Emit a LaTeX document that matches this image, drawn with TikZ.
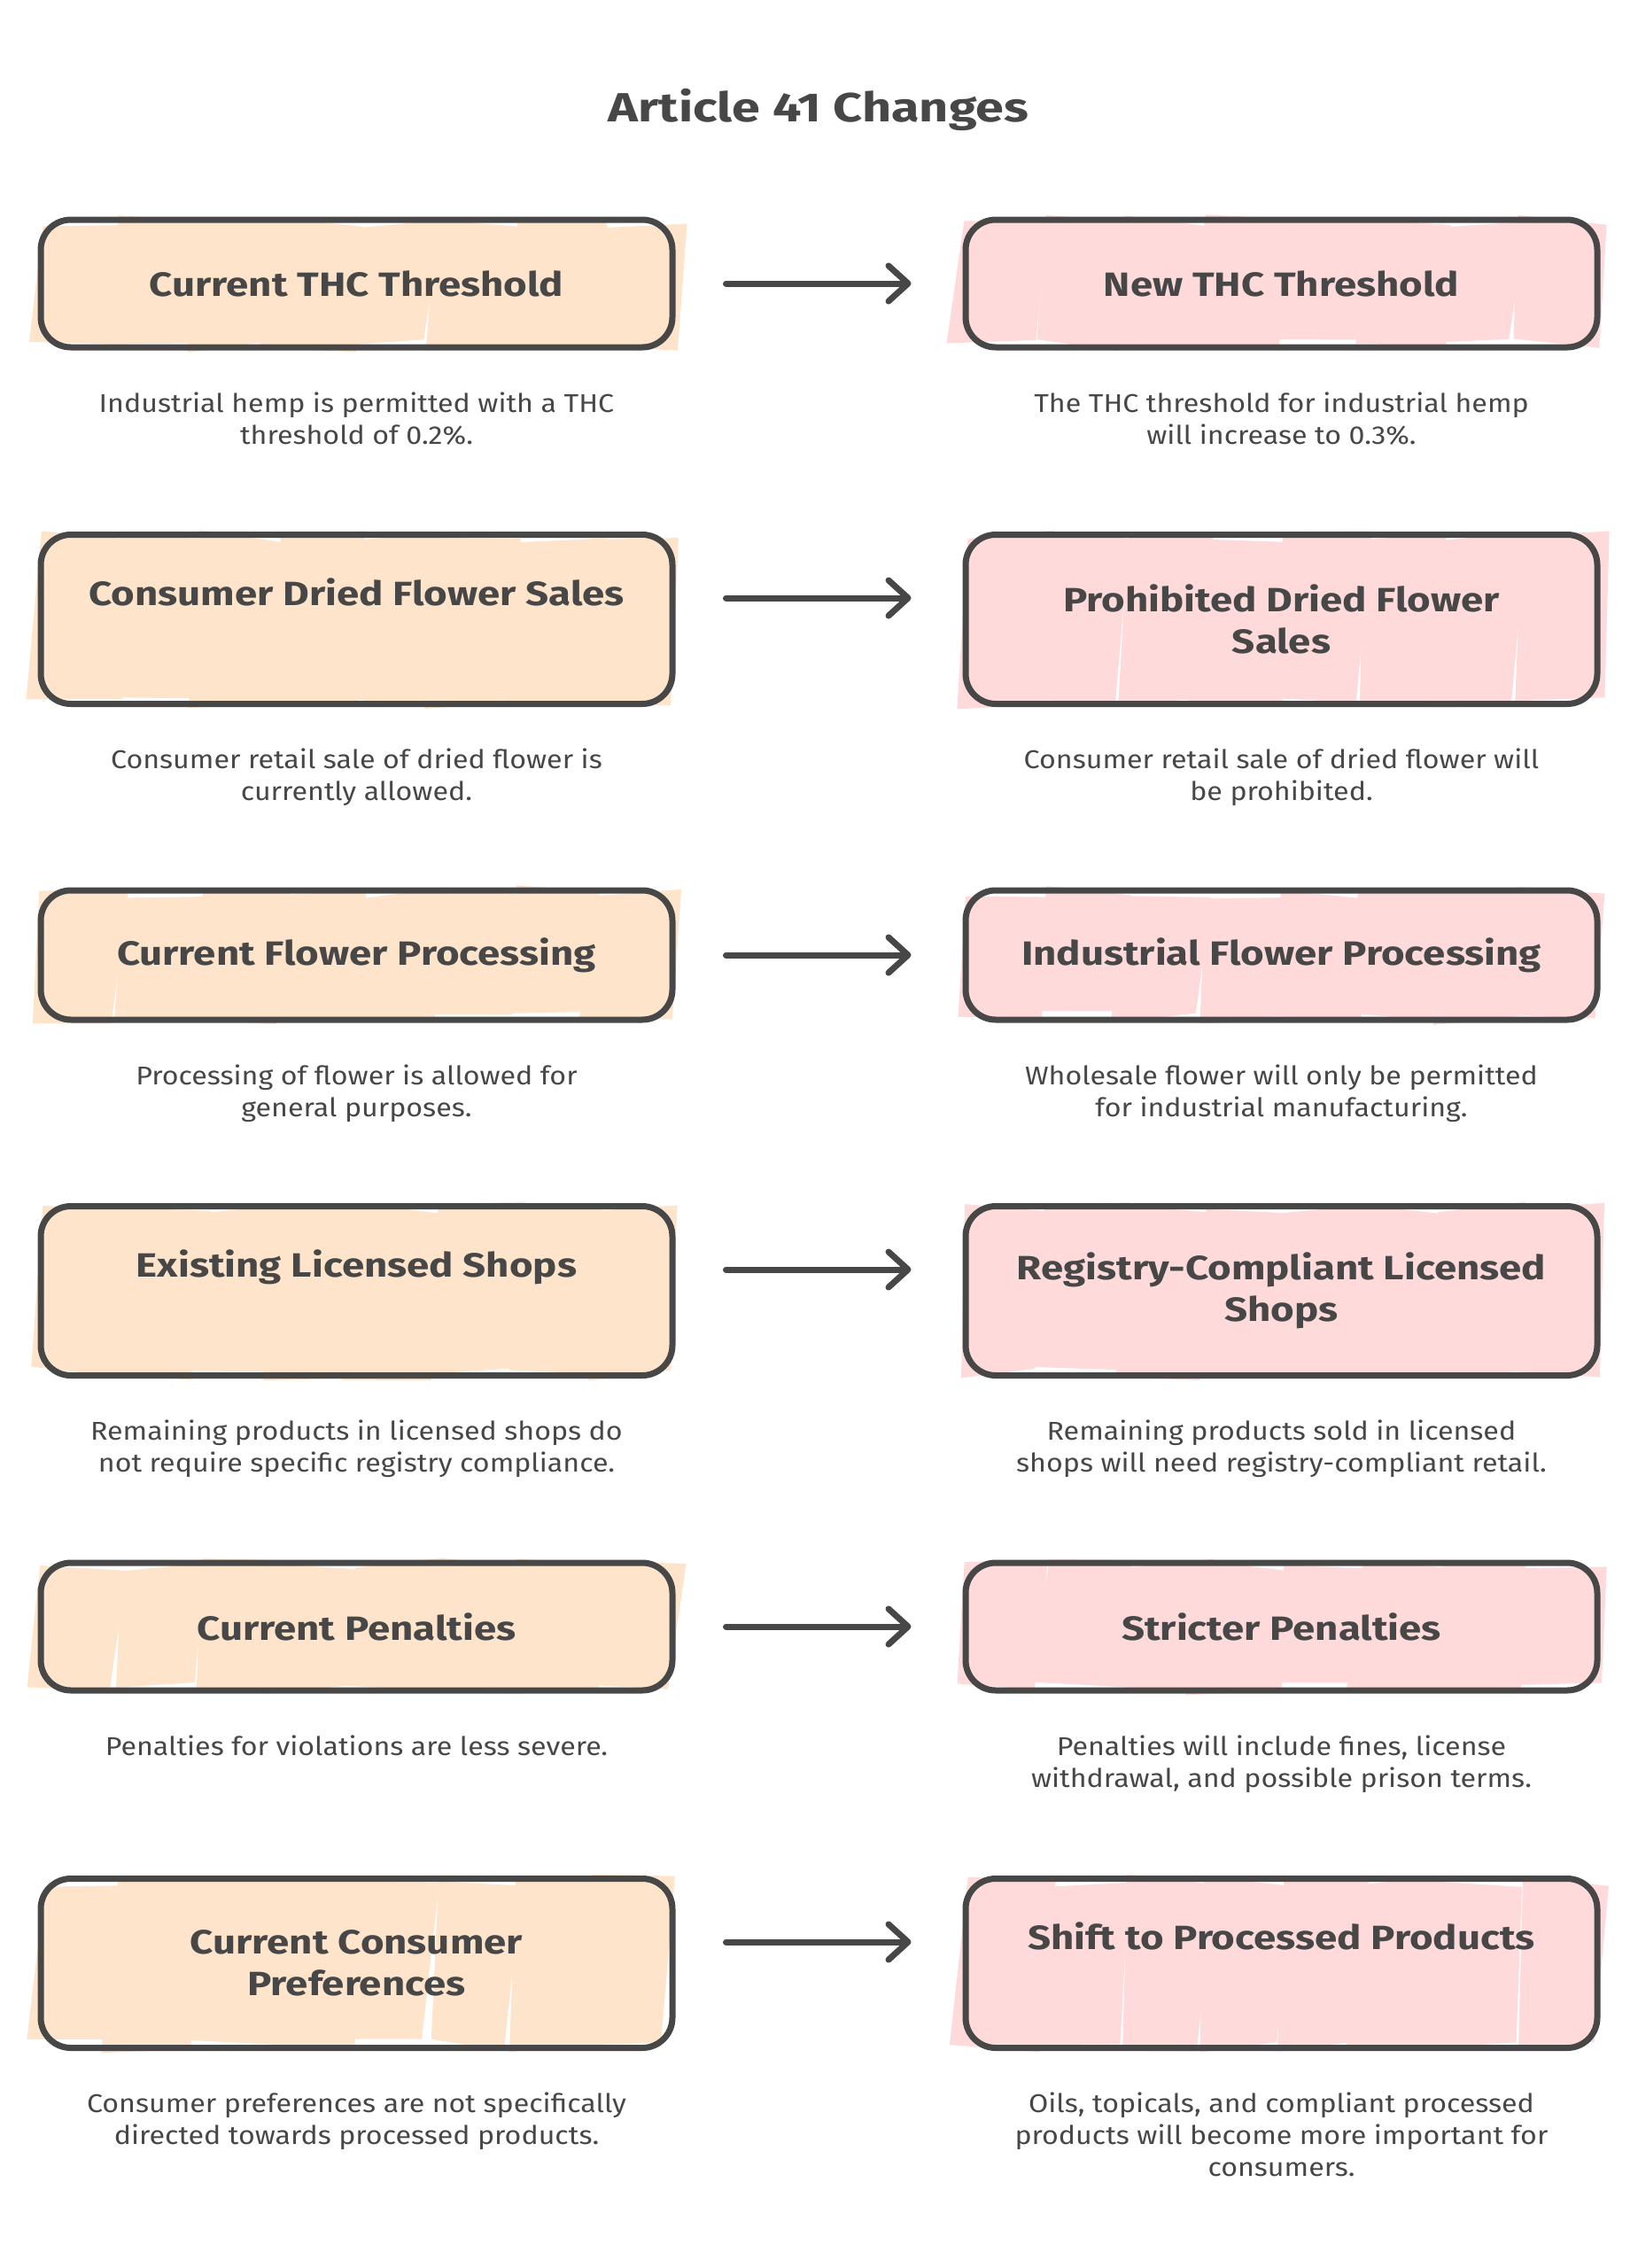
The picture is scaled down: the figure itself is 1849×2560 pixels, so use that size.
\documentclass[tikz,border=0pt]{standalone}
\usepackage{fontspec}
\setmainfont[FakeStretch=1.11]{Fira Sans}
\newfontfamily\boxfont[FakeStretch=1.2]{Fira Sans}
\newfontfamily\headfont[FakeStretch=1.25]{Fira Sans}
\usetikzlibrary{arrows.meta,positioning}
\definecolor{ink}{HTML}{474747}
\definecolor{peach}{HTML}{FFE4CC}
\definecolor{rose}{HTML}{FFDADA}
\newcommand\sketchfill[5]{%
  \pgfmathsetmacro\sfw{(#3-#1)/8}%
  \foreach \k in {0,...,7}{%
    \pgfmathsetmacro\xa{#1+\k*\sfw-2+8*rnd}%
    \pgfmathsetmacro\xb{\xa+\sfw+4+8*rnd}%
    \pgfmathsetmacro\ya{#2-6+16*rnd}%
    \pgfmathsetmacro\yb{#2-6+16*rnd}%
    \pgfmathsetmacro\yc{#4+6-16*rnd}%
    \pgfmathsetmacro\yd{#4+6-16*rnd}%
    \pgfmathsetmacro\sla{4+18*rnd}%
    \pgfmathsetmacro\slb{4+18*rnd}%
    \fill[#5] (\xa,\ya) -- (\xb,\yb) -- (\xb-\slb,\yc) -- (\xa-\sla,\yd) -- cycle;
  }%
}
\newcommand\rowfill[2]{% center y, height
  \sketchfill{46}{#1-#2/2}{759}{#1+#2/2}{peach}%
  \sketchfill{1090}{#1-#2/2}{1803}{#1+#2/2}{rose}%
}
\begin{document}
\begin{tikzpicture}[x=1pt,y=-1pt,
  box/.style={draw=ink, line width=7pt, rounded corners=34pt, minimum width=713pt,
    align=center, text=ink, inner sep=0pt, font=\boxfont\bfseries\fontsize{38}{47}\selectfont},
  lo/.style={box, minimum height=144pt},
  hi/.style={box, minimum height=191pt},
  desc/.style={font=\fontsize{29}{36}\selectfont, text=ink, align=center, inner sep=0pt, below=47pt of #1},
  arrow/.style={draw=ink, line width=7pt, line cap=round,
    -{Straight Barb[length=22pt,width=40pt,line cap=round,line join=round]},
    shorten <=57pt, shorten >=58pt}]
\useasboundingbox (0,0) rectangle (1849,2560);
\fill[white] (0,0) rectangle (1849,2560);
\pgfmathsetseed{41}
\rowfill{320}{144}
\rowfill{699}{191}
\rowfill{1078}{146}
\rowfill{1457}{191}
\rowfill{1836}{144}
\rowfill{2216}{191}

\node[font=\headfont\bfseries\fontsize{46}{56}\selectfont, text=ink] (title) at (924,124) {Article 41 Changes};

% row 1
\node[lo] (l1) at (402.5,320) {Current THC Threshold};
\node[lo] (r1) at (1446.5,320) {New THC Threshold};
\node[desc=l1] (dl1) {Industrial hemp is permitted with a THC\\threshold of 0.2\%.};
\node[desc=r1] (dr1) {The THC threshold for industrial hemp\\will increase to 0.3\%.};
% row 2
\node[hi] (l2) at (402.5,699) {Consumer Dried Flower Sales\\\strut};
\node[hi] (r2) at (1446.5,699) {Prohibited Dried Flower\\Sales};
\node[desc=l2] (dl2) {Consumer retail sale of dried flower is\\currently allowed.};
\node[desc=r2] (dr2) {Consumer retail sale of dried flower will\\be prohibited.};
% row 3
\node[box, minimum height=146pt] (l3) at (402.5,1078) {Current Flower Processing};
\node[box, minimum height=146pt] (r3) at (1446.5,1078) {Industrial Flower Processing};
\node[desc=l3] (dl3) {Processing of flower is allowed for\\general purposes.};
\node[desc=r3] (dr3) {Wholesale flower will only be permitted\\for industrial manufacturing.};
% row 4
\node[hi] (l4) at (402.5,1457) {Existing Licensed Shops\\\strut};
\node[hi] (r4) at (1446.5,1457) {Registry-Compliant Licensed\\Shops};
\node[desc=l4] (dl4) {Remaining products in licensed shops do\\not require specific registry compliance.};
\node[desc=r4] (dr4) {Remaining products sold in licensed\\shops will need registry-compliant retail.};
% row 5
\node[lo] (l5) at (402.5,1836) {Current Penalties};
\node[lo] (r5) at (1446.5,1836) {Stricter Penalties};
\node[desc=l5] (dl5) {Penalties for violations are less severe.};
\node[desc=r5] (dr5) {Penalties will include fines, license\\withdrawal, and possible prison terms.};
% row 6
\node[hi] (l6) at (402.5,2216) {Current Consumer\\Preferences};
\node[hi] (r6) at (1446.5,2216) {Shift to Processed Products\\\strut};
\node[desc=l6] (dl6) {Consumer preferences are not specifically\\directed towards processed products.};
\node[desc=r6] (dr6) {Oils, topicals, and compliant processed\\products will become more important for\\consumers.};

\foreach \i in {1,3,5}{\draw[arrow] (l\i) -- (r\i);}
\foreach \i in {2,4,6}{\draw[arrow] ([yshift=24pt]l\i.east) -- ([yshift=24pt]r\i.west);}
\end{tikzpicture}
\end{document}
